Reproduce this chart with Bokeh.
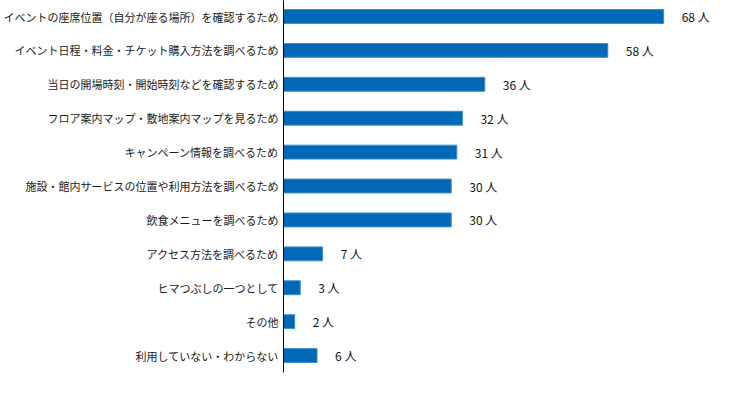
from bokeh.plotting import figure
from bokeh.models import Range1d, FixedTicker, ColumnDataSource, LabelSet
from bokeh.core.properties import value
from bokeh.embed import file_html
from bokeh.resources import INLINE

categories = [
    "イベントの座席位置（自分が座る場所）を確認するため",
    "イベント日程・料金・チケット購入方法を調べるため",
    "当日の開場時刻・開始時刻などを確認するため",
    "フロア案内マップ・敷地案内マップを見るため",
    "キャンペーン情報を調べるため",
    "施設・館内サービスの位置や利用方法を調べるため",
    "飲食メニューを調べるため",
    "アクセス方法を調べるため",
    "ヒマつぶしの一つとして",
    "その他",
    "利用していない・わからない",
]
values = [68, 58, 36, 32, 31, 30, 30, 7, 3, 2, 6]
unit = "人"

pos = list(range(len(categories)))
labels = [f"{v} {unit}" for v in values]
src = ColumnDataSource(dict(y=pos, v=values, lab=labels))

p = figure(width=737, height=391, output_backend="svg", toolbar_location=None,
           x_range=Range1d(0, 81.2), y_range=Range1d(10.5, -0.472),
           min_border_left=283, min_border_right=0, min_border_top=0, min_border_bottom=19)
p.outline_line_color = None
p.xgrid.visible = False
p.ygrid.visible = False
p.xaxis.visible = False

p.hbar(y="y", right="v", left=0, height=0.41, source=src,
       fill_color="#0068b7", line_color="#3f8fd0", line_width=1)

p.add_layout(LabelSet(x="v", y="y", text="lab", source=src, x_offset=18,
                      text_baseline="middle", text_font=value("Noto Sans CJK JP"),
                      text_font_size="12px", text_color="#111111"))

ya = p.yaxis[0]
ya.ticker = FixedTicker(ticks=pos)
ya.major_label_overrides = {i: c for i, c in enumerate(categories)}
ya.major_tick_line_color = None
ya.major_tick_out = 0
ya.major_tick_in = 0
ya.minor_tick_line_color = None
ya.minor_tick_out = 0
ya.axis_line_color = "#000000"
ya.axis_line_width = 1
ya.major_label_standoff = 5
ya.major_label_text_font = "Noto Sans CJK JP"
ya.major_label_text_font_size = "11px"
ya.major_label_text_color = "#1a1a1a"

open("out.html", "w").write(file_html(p, INLINE))
